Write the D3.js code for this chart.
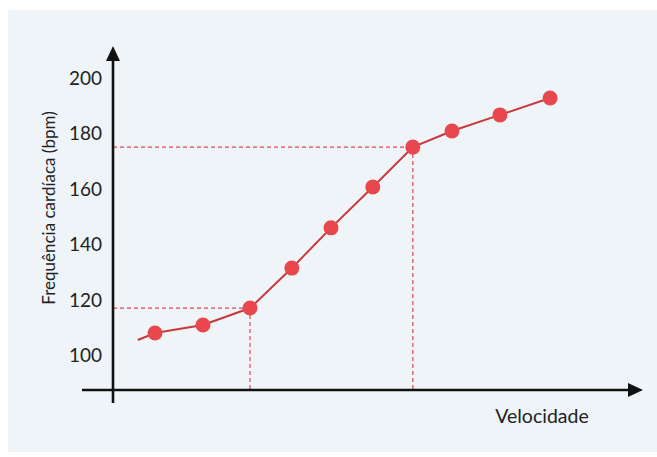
<!DOCTYPE html>
<html>
<head>
<meta charset="utf-8">
<script src="https://cdn.jsdelivr.net/npm/d3@7"></script>
<style>
  html, body { margin: 0; padding: 0; background: #ffffff; }
  svg { display: block; }
</style>
</head>
<body>
<svg id="chart" width="657" height="457"></svg>
<script>
// ---- data ----
const velocity = [0.61, 1, 2.09, 3.16, 4.11, 5.0, 5.95, 6.86, 7.75, 8.84, 9.98];
const heartRate = [105.6, 108.1, 111, 117.1, 131.5, 146, 160.7, 175.1, 180.9, 186.7, 192.8];
const hasMarker = [false, true, true, true, true, true, true, true, true, true, true];
const yTicks = [100, 120, 140, 160, 180, 200];
const guidePoints = [3, 7]; // indices of points with dashed reference lines
const yTitle = "Frequência cardíaca (bpm)";
const xTitle = "Velocidade";

// ---- layout ----
const svg = d3.select("#chart");
const W = 657, H = 457;
const originX = 113, originY = 390;
const FONT = "Lato, 'Open Sans', sans-serif";

svg.append("rect").attr("x", 8).attr("y", 10).attr("width", W - 8).attr("height", 442)
  .attr("fill", "#eef4f7");

const x = d3.scaleLinear().domain([0, 1]).range([111, 155]);
const y = d3.scaleLinear().domain([100, 200]).range([355.5, 78]);

// dashed guides
const guides = svg.append("g").attr("stroke", "#e0474c").attr("stroke-width", 1.2)
  .attr("stroke-dasharray", "4,3").attr("fill", "none");
guidePoints.forEach(i => {
  guides.append("line").attr("x1", originX).attr("x2", x(velocity[i]))
    .attr("y1", y(heartRate[i])).attr("y2", y(heartRate[i]));
  guides.append("line").attr("x1", x(velocity[i])).attr("x2", x(velocity[i]))
    .attr("y1", y(heartRate[i])).attr("y2", originY);
});

// y axis labels
const yAxis = d3.axisLeft(y).tickValues(yTicks).tickSize(0).tickPadding(11).tickFormat(d3.format("d"));
const gy = svg.append("g").attr("transform", `translate(${originX},0)`).call(yAxis);
gy.select(".domain").remove();
gy.selectAll("text").attr("font-family", FONT)
  .attr("font-size", 19).attr("fill", "#222");

// axes lines with arrows
const axes = svg.append("g").attr("stroke", "#111").attr("stroke-width", 2.6);
axes.append("line").attr("x1", originX).attr("x2", originX).attr("y1", 403).attr("y2", 58);
axes.append("line").attr("x1", 82).attr("x2", 632).attr("y1", originY).attr("y2", originY);
svg.append("path").attr("d", `M${originX},46 L${originX - 7},61 L${originX + 7},61 Z`).attr("fill", "#111");
svg.append("path").attr("d", `M643,${originY} L628,${originY - 7} L628,${originY + 7} Z`).attr("fill", "#111");

// line
const line = d3.line().x((d, i) => x(velocity[i])).y(d => y(d));
svg.append("path").datum(heartRate).attr("d", line)
  .attr("fill", "none").attr("stroke", "#c9383d").attr("stroke-width", 2);

// markers
svg.append("g").selectAll("circle")
  .data(heartRate.map((v, i) => ({ v, i })).filter(d => hasMarker[d.i]))
  .join("circle")
  .attr("cx", d => x(velocity[d.i])).attr("cy", d => y(d.v)).attr("r", 7.5)
  .attr("fill", "#e8484d");

// titles
svg.append("text").attr("transform", "translate(55,208) rotate(-90)")
  .attr("text-anchor", "middle").attr("font-family", FONT)
  .attr("font-size", 17).attr("fill", "#222").text(yTitle);
svg.append("text").attr("x", 542).attr("y", 423)
  .attr("text-anchor", "middle").attr("font-family", FONT)
  .attr("font-size", 19.5).attr("fill", "#222").text(xTitle);
</script>
</body>
</html>
